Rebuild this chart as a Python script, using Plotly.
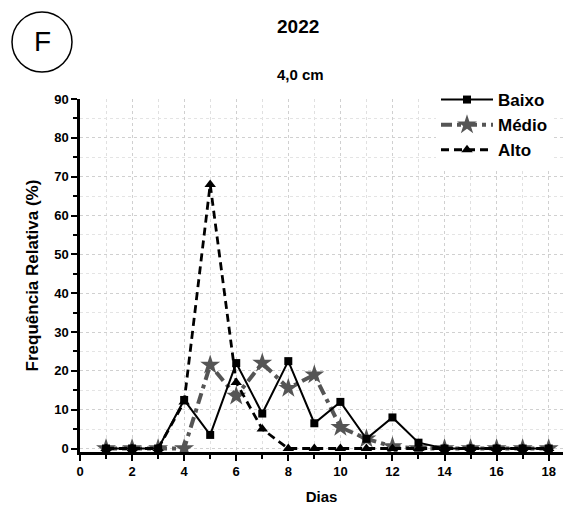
import plotly.graph_objects as go

dias = list(range(1, 19))
baixo = [0, 0, 0, 12.5, 3.5, 22, 9, 22.5, 6.5, 12, 2.5, 8, 1.5, 0, 0, 0, 0, 0]
medio = [0, 0, 0, 0, 21.5, 13.5, 22, 15.5, 19, 5.5, 2.5, 0.5, 0, 0, 0, 0, 0, 0]
alto = [0, 0, 0, 12, 68, 17, 5, 0, 0, 0, 0, 0, 0, 0, 0, 0, 0, 0]

FONT = "Liberation Sans, Arial, sans-serif"
W, H = 573, 506
l, r, t, b = 80, 10, 99, 54
pw, ph = W - l - r, H - t - b


def px(x):
    return (x - l) / pw


def py(y):
    return 1 - (y - t) / ph


fig = go.Figure()
fig.add_trace(go.Scatter(
    x=dias, y=medio, name="Médio", mode="lines+markers", legendrank=2,
    line=dict(color="#555555", width=4, dash="11px,5px,4px,5px"),
    marker=dict(symbol="star", size=15, color="#555555")))
fig.add_trace(go.Scatter(
    x=dias, y=alto, name="Alto", mode="lines+markers", legendrank=3,
    line=dict(color="black", width=2.8, dash="8px,5px"),
    marker=dict(symbol="triangle-up", size=10, color="black")))
fig.add_trace(go.Scatter(
    x=dias, y=baixo, name="Baixo", mode="lines+markers", legendrank=1,
    line=dict(color="black", width=2),
    marker=dict(symbol="square", size=8, color="black")))

fig.update_layout(
    width=W, height=H,
    margin=dict(l=l, r=r, t=t, b=b, autoexpand=False),
    paper_bgcolor="white", plot_bgcolor="white",
    font=dict(family=FONT, size=13, color="black"),
    showlegend=True,
    legend=dict(x=px(436), y=py(82), xanchor="left", yanchor="top",
                bgcolor="rgba(255,255,255,1)", borderwidth=0,
                font=dict(family=FONT, size=17, color="black", weight="bold"),
                itemwidth=52, tracegroupgap=0),
    xaxis=dict(range=[0, 18.55], tickmode="array", tickvals=list(range(0, 19, 2)),
               automargin=False,
               ticks="outside", ticklen=6, tickwidth=2, tickcolor="black",
               showline=True, linecolor="black", linewidth=2.5,
               tickfont=dict(family=FONT, size=13, weight="bold"),
               showgrid=True, gridcolor="#d0d0d0", griddash="dot", gridwidth=1,
               minor=dict(dtick=1, ticks="outside", ticklen=4, tickwidth=2,
                          tickcolor="black", showgrid=True, gridcolor="#e0e0e0",
                          griddash="dot", gridwidth=1),
               zeroline=False,
               title=dict(text="Dias", font=dict(family=FONT, size=15, weight="bold"),
                          standoff=14)),
    yaxis=dict(range=[-0.9, 90], tickmode="array", tickvals=list(range(0, 91, 10)),
               automargin=False,
               ticks="outside", ticklen=6, tickwidth=2, tickcolor="black",
               showline=True, linecolor="black", linewidth=2.5,
               tickfont=dict(family=FONT, size=13, weight="bold"),
               showgrid=True, gridcolor="#d0d0d0", griddash="dot", gridwidth=1,
               minor=dict(dtick=5, tick0=0, ticks="outside", ticklen=4, tickwidth=2,
                          tickcolor="black", showgrid=True, gridcolor="#e4e4e4",
                          griddash="dot", gridwidth=1),
               zeroline=False,
               title=dict(text="Frequência Relativa (%)",
                          font=dict(family=FONT, size=17, weight="bold"), standoff=12)),
    annotations=[
        dict(text="2022", x=px(298), y=py(27), xref="paper", yref="paper",
             showarrow=False, xanchor="center", yanchor="middle",
             font=dict(family=FONT, size=19, weight="bold")),
        dict(text="4,0 cm", x=px(300), y=py(75), xref="paper", yref="paper",
             showarrow=False, xanchor="center", yanchor="middle",
             font=dict(family=FONT, size=15, weight="bold")),
        dict(text="F", x=px(42), y=py(42), xref="paper", yref="paper",
             showarrow=False, xanchor="center", yanchor="middle",
             font=dict(family=FONT, size=28)),
    ],
)

cx, cy, rad = 42, 42, 30
fig.add_shape(type="circle", xref="paper", yref="paper",
              x0=px(cx - rad), x1=px(cx + rad),
              y0=py(cy + rad), y1=py(cy - rad),
              line=dict(color="black", width=1.5))

fig.write_html("out.html", config={"displayModeBar": False},
               post_script="document.body.style.margin='0';document.body.style.padding='0';")
